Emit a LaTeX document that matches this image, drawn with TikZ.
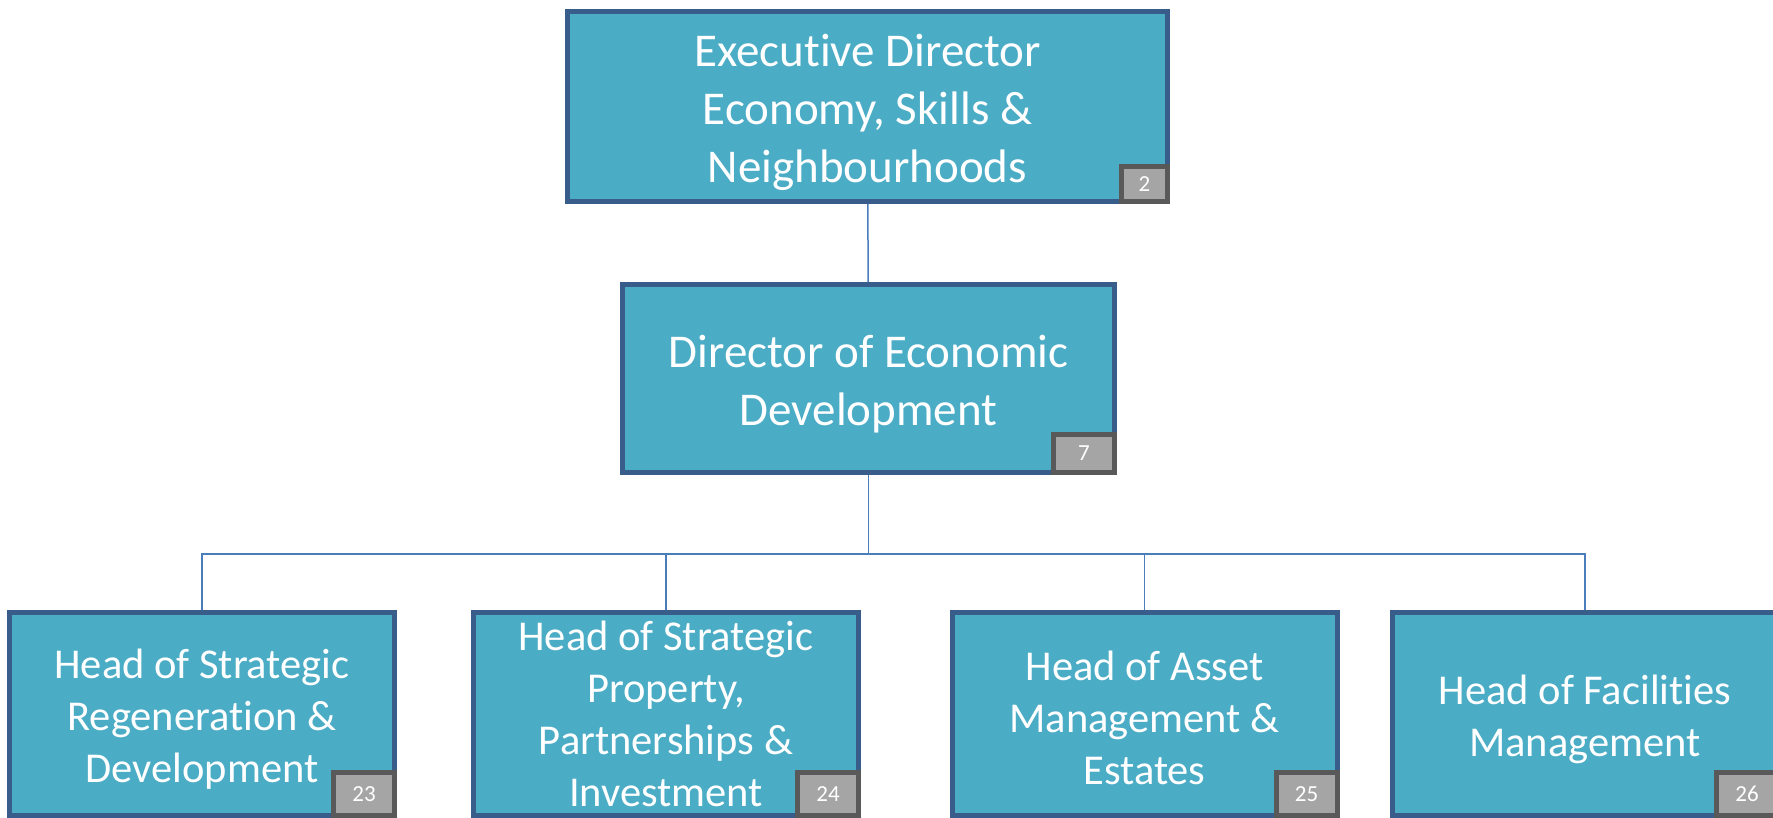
\documentclass[tikz,border=0pt]{standalone}
\usepackage{fontspec}
\setmainfont{Carlito}[Ligatures=NoCommon]
\definecolor{boxfill}{HTML}{4BACC6}
\definecolor{boxline}{HTML}{385D8A}
\definecolor{tagfill}{HTML}{A5A5A5}
\definecolor{tagline}{HTML}{595959}
\definecolor{linkline}{HTML}{4A7EBB}
\begin{document}
\begin{tikzpicture}[x=1pt,y=1pt,
    post/.style={draw=boxline,line width=5pt,fill=boxfill},
    head/.style={post,minimum width=385pt,minimum height=203pt},
    words/.style={text=white,align=center,font=\fontsize{47}{58}\selectfont},
    headwords/.style={words,font=\fontsize{42.5}{52}\selectfont},
    tag/.style={draw=tagline,line width=5pt,fill=tagfill,text=white,inner sep=0pt,
        anchor=south east,font=\fontsize{23}{27}\selectfont},
    link/.style={draw=linkline,line width=1.5pt}]
    \useasboundingbox (0,0) rectangle (1773,-818);
    %% directors
    \node[post,minimum width=600pt,minimum height=190pt] (exec) at (867.5,-106.5) {};
    \node[post,minimum width=492pt,minimum height=188pt] (dir) at (868.5,-378.5) {};
    %% heads of service
    \node[head] (regen) at (202,-714) {};
    \node[head] (prop) at (666,-714) {};
    \node[head] (asset) at (1144.5,-714) {};
    \node[head] (facil) at (1585,-714) {};
    %% titles
    \node[words] (exec-t) at ([yshift=-6pt]exec.center) {Executive Director\\Economy, Skills \&\\Neighbourhoods};
    \node[words] (dir-t) at ([yshift=-6pt]dir.center) {Director of Economic\\Development};
    \node[headwords] (regen-t) at ([yshift=-5pt]regen.center) {Head of Strategic\\Regeneration \&\\Development};
    \node[headwords] (prop-t) at (prop.center) {Head of Strategic\\Property,\\Partnerships \&\\Investment};
    \node[headwords] (asset-t) at ([yshift=-4pt]asset.center) {Head of Asset\\Management \&\\Estates};
    \node[headwords] (facil-t) at ([yshift=-5pt]facil.center) {Head of Facilities\\Management};
    %% tags
    \node[tag,minimum width=46pt,minimum height=35pt] (exec-n) at (exec.south east) {2};
    \node[tag,minimum width=61pt,minimum height=38pt] (dir-n) at (dir.south east) {7};
    \node[tag,minimum width=61pt,minimum height=43pt] (regen-n) at (regen.south east) {23};
    \node[tag,minimum width=61pt,minimum height=43pt] (prop-n) at (prop.south east) {24};
    \node[tag,minimum width=61pt,minimum height=43pt] (asset-n) at (asset.south east) {25};
    \node[tag,minimum width=61pt,minimum height=43pt] (facil-n) at (facil.south east) {26};
    %% links
    \draw[link] (exec) -- (dir);
    \foreach \n in {regen,prop,asset,facil}
        \draw[link] (dir.south) -- ++(0,-79) -| (\n.north);
\end{tikzpicture}
\end{document}
